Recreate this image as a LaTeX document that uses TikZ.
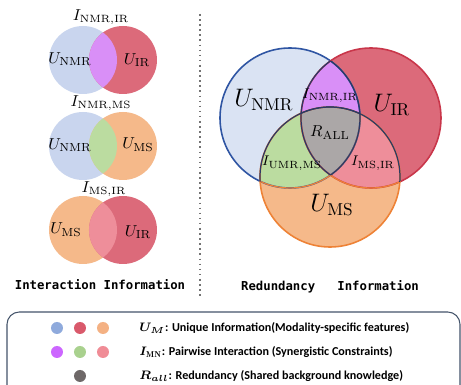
\documentclass[tikz,border=0pt]{standalone}
\usepackage{fontspec}
\setsansfont{Carlito}
\newfontfamily\handmono{DejaVu Sans Mono}
\usetikzlibrary{positioning}

% colours of the three modalities and their overlaps
\definecolor{nmrsoft}{HTML}{C9D5EE}
\definecolor{nmrbig}{HTML}{DAE3F3}
\definecolor{nmrline}{HTML}{2F55A3}
\definecolor{irfill}{HTML}{DC6A7A}
\definecolor{irline}{HTML}{C9364A}
\definecolor{msfill}{HTML}{F5B98A}
\definecolor{msline}{HTML}{EE8236}
\definecolor{nmrir}{HTML}{D98FF7}
\definecolor{nmrms}{HTML}{BBDCA0}
\definecolor{msir}{HTML}{EE8E9A}
\definecolor{allfill}{HTML}{ABA7A7}
\definecolor{innerline}{HTML}{2B3A67}
\definecolor{boxline}{HTML}{44546A}
\definecolor{dotblue}{HTML}{8FAADC}
\definecolor{dotred}{HTML}{D9596B}
\definecolor{dotorange}{HTML}{F4B183}
\definecolor{dotpurple}{HTML}{CC66FF}
\definecolor{dotgreen}{HTML}{A9D18E}
\definecolor{dotpink}{HTML}{F08C96}
\definecolor{dotgray}{HTML}{6E6868}

% one small pair of discs: \pairvenn(y)(left colour)(right colour)(overlap colour)
\def\pairvenn(#1)(#2)(#3)(#4){
  \fill[#2] (83,#1) circle[radius=34];
  \fill[#3] (123,#1) circle[radius=34];
  \begin{scope}
    \clip (83,#1) circle[radius=34];
    \fill[#4] (123,#1) circle[radius=34];
  \end{scope}
}

\tikzset{
  smalllab/.style={font=\fontsize{9.5}{11}\selectfont, inner sep=0pt},
  toplab/.style={font=\fontsize{9}{11}\selectfont, inner sep=0pt},
  biglab/.style={font=\fontsize{14}{16}\selectfont, inner sep=0pt},
  midlab/.style={font=\fontsize{8.5}{10}\selectfont, inner sep=0pt},
  caption/.style={font=\handmono\bfseries\fontsize{7}{8}\selectfont, inner sep=0pt},
  legtext/.style={font=\sffamily\bfseries\fontsize{6.9}{8}\selectfont, anchor=west, inner sep=0pt},
}

\begin{document}
\begin{tikzpicture}[x=0.02cm, y=-0.02cm]
  %%%%% START %%%%%
  \useasboundingbox (0,0) rectangle (461,385);
  \clip (0,0) rectangle (461,385);
  \fill[white] (0,0) rectangle (461,385);

  % left: the three pairwise interactions
  \pairvenn(60)(nmrsoft)(irfill)(nmrir)
  \pairvenn(146)(nmrsoft)(msfill)(nmrms)
  \pairvenn(230)(msfill)(irfill)(msir)

  \node[toplab] (inmrir) at (101,17) {$I_{\mathrm{NMR,IR}}$};
  \node[smalllab] (unmrA) at (70,59) {$U_{\mathrm{NMR}}$};
  \node[smalllab] (uirA) at (137,60) {$U_{\mathrm{IR}}$};

  \node[toplab] (inmrms) at (101,103) {$I_{\mathrm{NMR,MS}}$};
  \node[smalllab] (unmrB) at (70,145) {$U_{\mathrm{NMR}}$};
  \node[smalllab] (umsB) at (138,145) {$U_{\mathrm{MS}}$};

  \node[toplab] (imsir) at (104,189) {$I_{\mathrm{MS,IR}}$};
  \node[smalllab] (umsC) at (66,230) {$U_{\mathrm{MS}}$};
  \node[smalllab] (uirC) at (138,232) {$U_{\mathrm{IR}}$};

  \node[caption] (interinfo) at (100,285) {Interaction Information};

  % separator
  \draw[black!55, line width=0.9pt, dotted] (200,14) -- (200,296);

  % right: the three-way diagram
  \fill[nmrbig] (290,118) circle[radius=70];
  \fill[irfill] (371,118) circle[radius=70];
  \fill[msfill] (330,177) circle[radius=70];
  \begin{scope}
    \clip (290,118) circle[radius=70];
    \fill[nmrir] (371,118) circle[radius=70];
    \fill[nmrms] (330,177) circle[radius=70];
  \end{scope}
  \begin{scope}
    \clip (371,118) circle[radius=70];
    \fill[msir] (330,177) circle[radius=70];
  \end{scope}
  \begin{scope}
    \clip (290,118) circle[radius=70];
    \clip (371,118) circle[radius=70];
    \fill[allfill] (330,177) circle[radius=70];
  \end{scope}

  \draw[nmrline, line width=0.9pt] (290,118) circle[radius=70];
  \draw[irline, line width=0.9pt] (371,118) circle[radius=70];
  \draw[msline, line width=0.9pt] (330,177) circle[radius=70];
  \begin{scope}
    \clip (330,177) circle[radius=70];
    \draw[msline, line width=0.7pt] (290,118) circle[radius=70];
    \draw[msline, line width=0.7pt] (371,118) circle[radius=70];
  \end{scope}
  \begin{scope}
    \clip (290,118) circle[radius=70];
    \draw[innerline, line width=0.7pt] (371,118) circle[radius=70];
    \draw[innerline, line width=0.7pt] (330,177) circle[radius=70];
  \end{scope}
  \begin{scope}
    \clip (371,118) circle[radius=70];
    \draw[innerline, line width=0.7pt] (290,118) circle[radius=70];
    \draw[innerline, line width=0.7pt] (330,177) circle[radius=70];
  \end{scope}

  \node[biglab] (unmr) at (264,100) {$U_{\mathrm{NMR}}$};
  \node[biglab] (uir) at (392,105) {$U_{\mathrm{IR}}$};
  \node[biglab] (ums) at (332,205) {$U_{\mathrm{MS}}$};
  \node[midlab] (inmrirR) at (330,96) {$I_{\mathrm{NMR,IR}}$};
  \node[midlab, font=\fontsize{9.5}{11}\selectfont] (rall) at (330,133) {$R_{\mathrm{ALL}}$};
  \node[midlab] (iumrms) at (292,163) {$I_{\mathrm{UMR,MS}}$};
  \node[midlab] (imsirR) at (373,163) {$I_{\mathrm{MS,IR}}$};

  \node[caption] (redinfo) at (330,287) {Redundancy\ \ \ Information};

  % legend
  \draw[boxline, line width=0.6pt, rounded corners=7] (7,312) rectangle (460,410);
  \fill[dotblue] (57,328) circle[radius=6];
  \fill[dotred] (80,328) circle[radius=6];
  \fill[dotorange] (103,328) circle[radius=6];
  \fill[dotpurple] (57,352) circle[radius=6];
  \fill[dotgreen] (80,352) circle[radius=6];
  \fill[dotpink] (103,352) circle[radius=6];
  \fill[dotgray] (80,376) circle[radius=6];

  \node[legtext] (legu) at (139,328) {{\boldmath$U_M$}: Unique Information(Modality-specific features)};
  \node[legtext] (legi) at (139,352) {{\boldmath$I_{\mathrm{MN}}$}: Pairwise Interaction (Synergistic Constraints)};
  \node[legtext] (legr) at (139,376) {{\boldmath$R_{all}$}: Redundancy (Shared background knowledge)};
  %%%%% END %%%%%
\end{tikzpicture}
\end{document}
